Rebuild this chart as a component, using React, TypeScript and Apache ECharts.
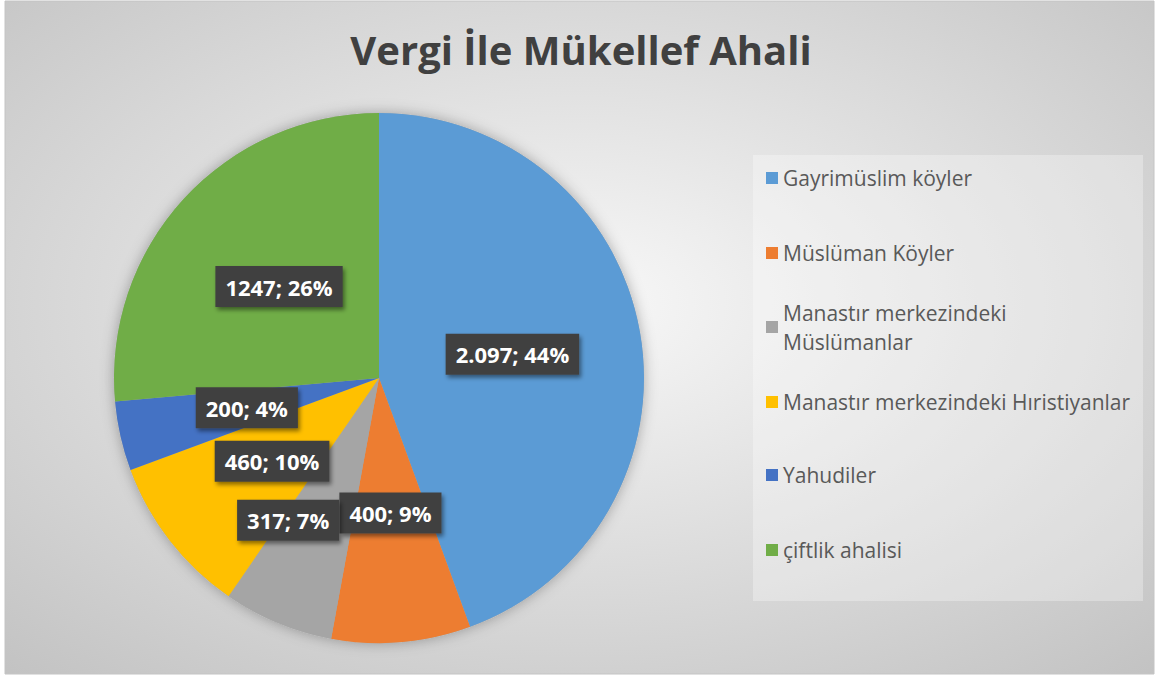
import React, { useEffect, useRef } from 'react';
import * as echarts from 'echarts';

const titleText = 'Vergi İle Mükellef Ahali';
const categories = [
  'Gayrimüslim köyler',
  'Müslüman Köyler',
  'Manastır merkezindeki Müslümanlar',
  'Manastır merkezindeki Hıristiyanlar',
  'Yahudiler',
  'çiftlik ahalisi',
];
const legendLabels = [
  'Gayrimüslim köyler',
  'Müslüman Köyler',
  'Manastır merkezindeki\nMüslümanlar',
  'Manastır merkezindeki Hıristiyanlar',
  'Yahudiler',
  'çiftlik ahalisi',
];
const values = [2097, 400, 317, 460, 200, 1247];
const valueLabels = ['2.097', '400', '317', '460', '200', '1247'];
const colors = ['#5B9BD5', '#ED7D31', '#A5A5A5', '#FFC000', '#4472C4', '#70AD47'];

const FONT = "'Open Sans', sans-serif";
const legendCenters = [178, 253, 327, 402, 475, 550];

export default function App() {
  const ref = useRef<HTMLDivElement>(null);
  useEffect(() => {
    if (!ref.current) return;
    const chart = echarts.init(ref.current, null, { renderer: 'svg' });
    const legends = categories.map((name, i) => {
      const twoLine = legendLabels[i].includes('\n');
      const lh = twoLine ? 29 : 26;
      return {
        orient: 'vertical',
        left: 766,
        top: twoLine ? legendCenters[i] - 43.5 : legendCenters[i] - lh / 2,
        padding: 0,
        itemWidth: 12,
        itemHeight: 12,
        itemGap: 0,
        icon: 'rect',
        selectedMode: false,
        data: [name],
        formatter: () => legendLabels[i],
        textStyle: {
          fontFamily: FONT,
          fontSize: 21,
          color: '#595959',
          lineHeight: lh,
          padding: twoLine ? [29, 0, 0, 0] : 0,
        },
      };
    });
    chart.setOption({
      animation: false,
      color: colors,
      title: {
        text: titleText,
        left: 'center',
        top: 24,
        textStyle: { fontFamily: FONT, fontSize: 40, fontWeight: 'bold', color: '#404040' },
      },
      legend: legends,
      graphic: [
        {
          type: 'rect',
          z: -10,
          shape: { x: 5, y: 1, width: 1149, height: 673 },
          style: {
            fill: {
              type: 'radial',
              x: 0.5,
              y: 0.45,
              r: 0.75,
              colorStops: [
                { offset: 0, color: '#f8f8f8' },
                { offset: 1, color: '#c2c2c2' },
              ],
            },
            stroke: '#c4c4c4',
            lineWidth: 1,
          },
        },
        {
          type: 'rect',
          z: -5,
          shape: { x: 753, y: 155, width: 390, height: 446 },
          style: { fill: 'rgba(255,255,255,0.3)' },
        },
      ],
      series: [
        {
          type: 'pie',
          silent: true,
          z: 1,
          center: [379, 378],
          radius: 265,
          label: { show: false },
          labelLine: { show: false },
          itemStyle: { color: '#aaaaaa', shadowBlur: 14, shadowColor: 'rgba(0,0,0,0.3)', borderWidth: 0 },
          data: [{ value: 1, name: '' }],
        },
        {
          type: 'pie',
          z: 2,
          center: [379, 378],
          radius: 265,
          startAngle: 90,
          clockwise: true,
          percentPrecision: 0,
          avoidLabelOverlap: false,
          emphasis: { disabled: true },
          itemStyle: { borderWidth: 0 },
          labelLine: { show: false },
          label: {
            show: true,
            position: 'inside',
            formatter: (p: any) => `${valueLabels[p.dataIndex]}; ${p.percent}%`,
            fontFamily: FONT,
            fontSize: 22,
            fontWeight: 'bold',
            color: '#ffffff',
            backgroundColor: '#404040',
            padding: [10, 10, 9, 10],
            shadowColor: 'rgba(0,0,0,0.45)',
            shadowBlur: 4,
            shadowOffsetX: 2,
            shadowOffsetY: 3,
          },
          labelLayout: (params: any) => (params.dataIndex === 2 ? { dx: -39, dy: 17 } : {}),
          data: categories.map((name, i) => ({ name, value: values[i] })),
        },
      ],
    });
    return () => chart.dispose();
  }, []);
  return (
    <div
      ref={ref}
      style={{ position: 'absolute', left: 0, top: 0, width: 1162, height: 677, background: '#ffffff' }}
    />
  );
}
